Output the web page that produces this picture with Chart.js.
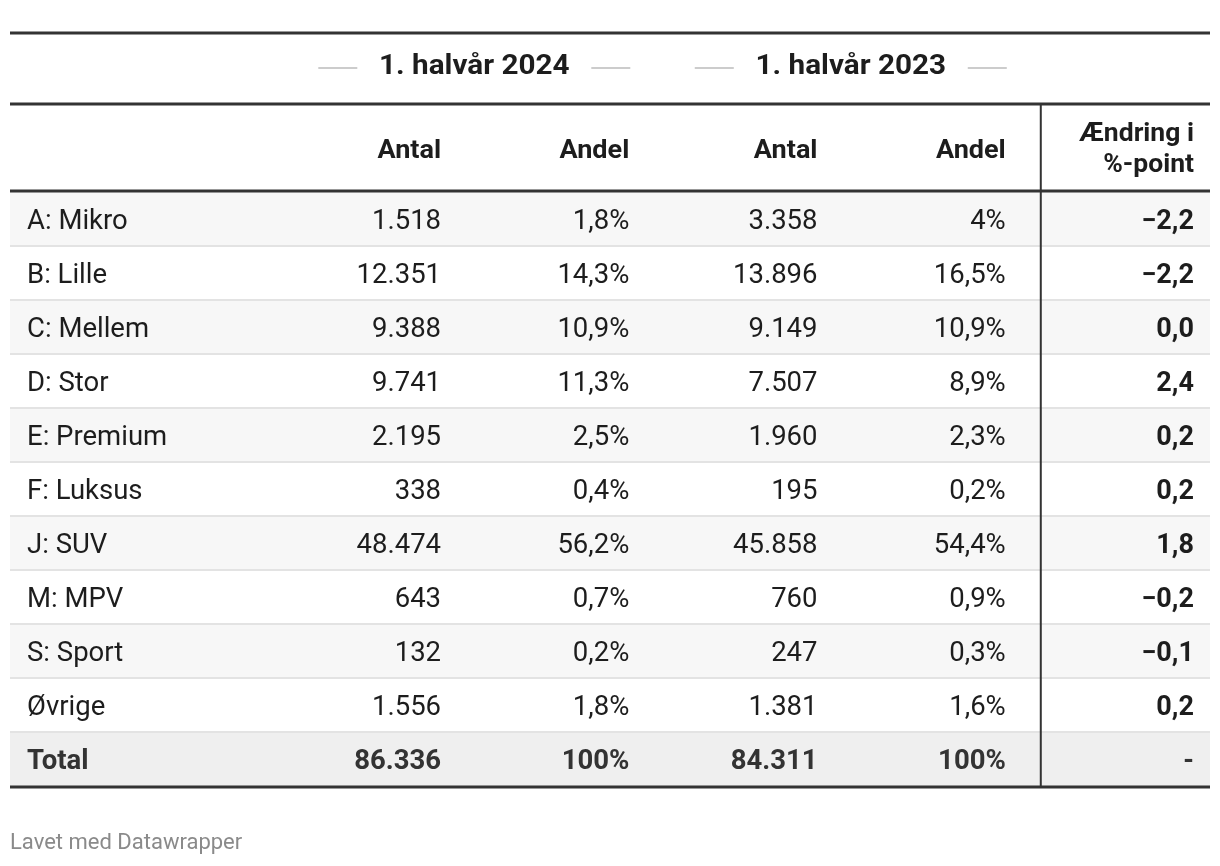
<!DOCTYPE html>
<html>
<head>
<meta charset="utf-8">
<script src="https://cdn.jsdelivr.net/npm/chart.js@4.4.1/dist/chart.umd.min.js"></script>
<style>
  html, body { margin: 0; padding: 0; background: #fff; }
  canvas { display: block; }
</style>
</head>
<body>
<canvas id="table" width="1220" height="866"></canvas>
<script>
// Table data (1. halvår 2024 vs 1. halvår 2023)
const categories = ['A: Mikro', 'B: Lille', 'C: Mellem', 'D: Stor', 'E: Premium', 'F: Luksus', 'J: SUV', 'M: MPV', 'S: Sport', 'Øvrige'];
const antal2024 = [1518, 12351, 9388, 9741, 2195, 338, 48474, 643, 132, 1556];
const andel2024 = [1.8, 14.3, 10.9, 11.3, 2.5, 0.4, 56.2, 0.7, 0.2, 1.8];
const antal2023 = [3358, 13896, 9149, 7507, 1960, 195, 45858, 760, 247, 1381];
const andel2023 = [4, 16.5, 10.9, 8.9, 2.3, 0.2, 54.4, 0.9, 0.3, 1.6];
const changePoints = [-2.2, -2.2, 0.0, 2.4, 0.2, 0.2, 1.8, -0.2, -0.1, 0.2];
const totalLabel = 'Total';
const totals = [86336, 100, 84311, 100];
const groupTitles = ['1. halvår 2024', '1. halvår 2023'];
const columnHeaders = ['Antal', 'Andel', 'Antal', 'Andel'];
const changeHeader = ['Ændring i', '%-point'];

const rowLabels = categories.concat([totalLabel]);

function fmtInt(v) {
    return String(v).replace(/\B(?=(\d{3})+(?!\d))/g, '.');
}
function fmtPct(v) {
    return (Number.isInteger(v) ? String(v) : v.toFixed(1).replace('.', ',')) + '%';
}
function fmtChange(v) {
    const s = Math.abs(v).toFixed(1).replace('.', ',');
    return v < 0 ? '\u2212' + s : s;
}

const BODY = '400 27.5px Roboto';
const BOLD = '700 27px Roboto';
const TOTAL = '700 27.5px Roboto';
const HEAD = '700 26px Roboto';
const GROUP = '700 27px Roboto';

// text drawn with a horizontal stretch, baseline alphabetic
function stretchText(ctx, text, x, y, align, sx) {
    ctx.save();
    ctx.translate(x, y);
    ctx.scale(sx, 1);
    ctx.textAlign = align;
    ctx.fillText(text, 0, 0);
    ctx.restore();
}

function hline(ctx, x1, x2, y, w, color) {
    ctx.fillStyle = color;
    ctx.fillRect(x1, y - w / 2, x2 - x1, w);
}

const tablePlugin = {
    id: 'tablePlugin',
    afterDraw(chart) {
        const ctx = chart.ctx;
        const xs = chart.scales.x;
        const ys = chart.scales.y;
        const area = chart.chartArea;
        const rowH = ys.height / rowLabels.length;
        const top = area.top;

        ctx.save();
        ctx.textBaseline = 'alphabetic';

        // row backgrounds and separators
        rowLabels.forEach((lab, i) => {
            const cy = ys.getPixelForValue(i);
            const y0 = cy - rowH / 2;
            let bg = i % 2 === 0 ? '#f7f7f7' : '#ffffff';
            if (i === rowLabels.length - 1) bg = '#efefef';
            ctx.fillStyle = bg;
            ctx.fillRect(area.left, y0, area.right - area.left, rowH);
            if (i > 0) hline(ctx, area.left, area.right, y0, 2, '#e3e3e3');
        });

        // body cells
        categories.forEach((cat, i) => {
            const by = ys.getPixelForValue(i) + 10;
            ctx.fillStyle = '#1d1d1d';
            ctx.font = BODY;
            ctx.textAlign = 'left';
            ctx.fillText(cat, area.left + 17, by);
            ctx.textAlign = 'right';
            ctx.fillText(fmtInt(antal2024[i]), xs.getPixelForValue(1), by);
            ctx.fillText(fmtPct(andel2024[i]), xs.getPixelForValue(2), by);
            ctx.fillText(fmtInt(antal2023[i]), xs.getPixelForValue(3), by);
            ctx.fillText(fmtPct(andel2023[i]), xs.getPixelForValue(4), by);
            ctx.font = BOLD;
            ctx.fillText(fmtChange(changePoints[i]), xs.getPixelForValue(5), by);
        });

        // total row
        const ti = rowLabels.length - 1;
        const ty = ys.getPixelForValue(ti) + 10;
        ctx.fillStyle = '#333333';
        ctx.font = TOTAL;
        ctx.textAlign = 'left';
        ctx.fillText(totalLabel, area.left + 17, ty);
        ctx.textAlign = 'right';
        ctx.fillText(fmtInt(totals[0]), xs.getPixelForValue(1), ty);
        ctx.fillText(fmtPct(totals[1]), xs.getPixelForValue(2), ty);
        ctx.fillText(fmtInt(totals[2]), xs.getPixelForValue(3), ty);
        ctx.fillText(fmtPct(totals[3]), xs.getPixelForValue(4), ty);
        ctx.font = BOLD;
        ctx.fillText('-', xs.getPixelForValue(5), ty);

        // header: column titles
        ctx.fillStyle = '#1d1d1d';
        ctx.font = HEAD;
        columnHeaders.forEach((h, c) => {
            stretchText(ctx, h, xs.getPixelForValue(c + 1), top - 34, 'right', 1.04);
        });
        stretchText(ctx, changeHeader[0], xs.getPixelForValue(5), top - 51, 'right', 1.02);
        stretchText(ctx, changeHeader[1], xs.getPixelForValue(5), top - 20, 'right', 1.02);

        // header: group titles with side lines
        groupTitles.forEach((g, k) => {
            const right = xs.getPixelForValue(2 + k * 2) + 1;
            const cx = right - 156;
            const gy = top - 125;
            ctx.fillStyle = '#1d1d1d';
            ctx.font = GROUP;
            stretchText(ctx, g, cx, top - 118.5, 'center', 1.1);
            hline(ctx, right - 312, right - 312 + 39, gy + 1, 2, '#cccccc');
            hline(ctx, right - 39, right, gy + 1, 2, '#cccccc');
        });

        // rules
        hline(ctx, area.left, area.right, top - 159, 3, '#333333');
        hline(ctx, area.left, area.right, top - 88, 3, '#333333');
        hline(ctx, area.left, area.right, top - 1, 3, '#333333');
        hline(ctx, area.left, area.right, area.bottom + 1, 3, '#333333');

        // divider before change column
        const dx = xs.getPixelForValue(4.186);
        ctx.fillStyle = '#333333';
        ctx.fillRect(dx - 1, top - 88, 2, area.bottom - top + 89);

        // footer
        ctx.fillStyle = '#8a8a8a';
        ctx.font = '400 22px Roboto';
        ctx.textAlign = 'left';
        ctx.fillText('Lavet med Datawrapper', area.left, area.bottom + 63);

        ctx.restore();
    }
};

new Chart(document.getElementById('table').getContext('2d'), {
    type: 'scatter',
    data: {
        datasets: [{ data: [], pointRadius: 0 }]
    },
    options: {
        responsive: false,
        animation: false,
        events: [],
        layout: { padding: { left: 10, right: 10, top: 192, bottom: 80 } },
        plugins: { legend: { display: false }, tooltip: { enabled: false } },
        scales: {
            x: { type: 'linear', min: -1.29, max: 5.085, display: false },
            y: { type: 'category', labels: rowLabels, offset: true, display: false }
        }
    },
    plugins: [tablePlugin]
});
</script>
</body>
</html>
